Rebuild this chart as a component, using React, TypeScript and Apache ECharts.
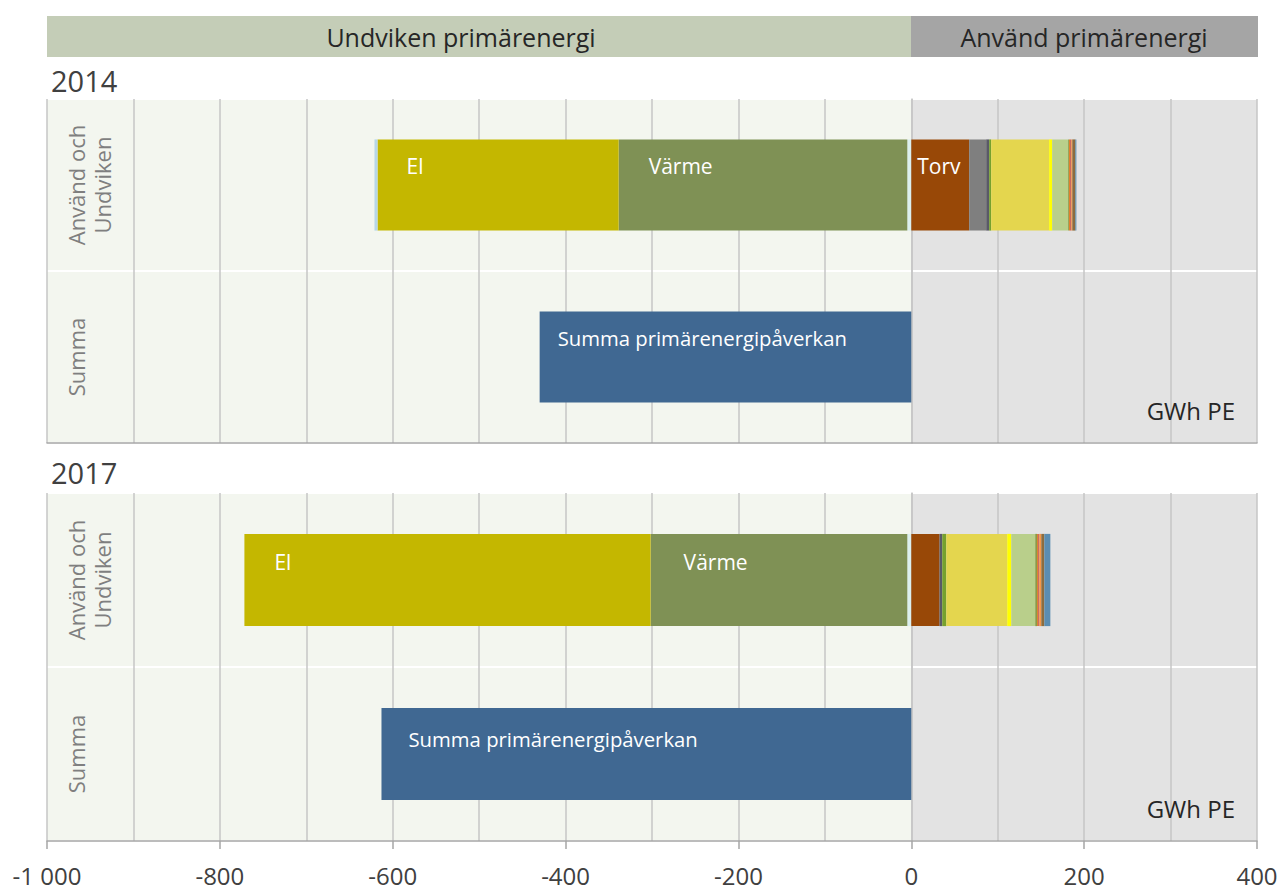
import React, { useEffect, useRef } from "react";
import * as echarts from "echarts";

// ---------- DATA ----------
const categories = ["Summa", "Använd och\nUndviken"];
const years = ["2014", "2017"];
const xMin = -1000;
const xMax = 400;
const tickStep = 200;

// Undviken (negative)
const ljuscyan = [-4.6, -4.6];
const varme = [-334, -297];
const el = [-279, -470];
const ljusbla = [-3.5, 0];
// Använd (positive)
const torv = [67, 32.7];
const gra = [19.7, 0];
const morkgra = [3.4, 3.1];
const gron = [2.3, 4.7];
const gul = [67.1, 70.5];
const klargul = [3.5, 4.7];
const ljusgron = [18.5, 27.7];
const oliv = [1.2, 2.3];
const orange = [1.2, 1.2];
const rod = [1.2, 1.2];
const ljusorange = [1.2, 2.3];
const brun = [3.5, 3.5];
const bla = [1.2, 7];
// Summa
const summa = [-430, -613];

// ---------- STYLE ----------
const FONT = "'Open Sans', 'Noto Sans', sans-serif";
const FW = 400;

const stackDefs = [
  { name: "Ljuscyan", data: ljuscyan, color: "#dbefee" },
  { name: "Värme", data: varme, color: "#7f9155" },
  { name: "El", data: el, color: "#c4b700" },
  { name: "Ljusblå", data: ljusbla, color: "#b7d7e8" },
  { name: "Torv", data: torv, color: "#984807" },
  { name: "Grå", data: gra, color: "#7f7f7f" },
  { name: "Mörkgrå", data: morkgra, color: "#5a5a66" },
  { name: "Grön", data: gron, color: "#77a12e" },
  { name: "Gul", data: gul, color: "#e4d64e" },
  { name: "Klargul", data: klargul, color: "#ffff00" },
  { name: "Ljusgrön", data: ljusgron, color: "#b9cf8b" },
  { name: "Oliv", data: oliv, color: "#8b9a46" },
  { name: "Orange", data: orange, color: "#e46c0a" },
  { name: "Röd", data: rod, color: "#c0504d" },
  { name: "Ljusorange", data: ljusorange, color: "#f79646" },
  { name: "Brun", data: brun, color: "#8c6d3f" },
  { name: "Blå", data: bla, color: "#5b8db1" },
];

// label offsets (px) inside the bar, per year
const labelPos: Record<string, (number[] | null)[]> = {
  El: [[29, 16], [30, 18]],
  Värme: [[30, 16], [33, 18]],
  Torv: [[6, 16], null],
  Summa: [[18, 17], [27, 21]],
};

const fmtTick = (v: number) => {
  const s = Math.abs(v).toString();
  const t = s.length > 3 ? s.slice(0, s.length - 3) + " " + s.slice(-3) : s;
  return (v < 0 ? "-" : "") + t;
};

export default function App() {
  const ref = useRef<HTMLDivElement>(null);
  useEffect(() => {
    const chart = echarts.init(ref.current!, null, { renderer: "svg" });
    const gridsPos = [
      { left: 47, top: 99, width: 1210, height: 344 },
      { left: 47, top: 493, width: 1210, height: 348 },
    ];
    const xAxes: any[] = [];
    const yAxes: any[] = [];
    const series: any[] = [];

    years.forEach((yr, g) => {
      const last = g === years.length - 1;
      xAxes.push({
        type: "value",
        gridIndex: g,
        min: xMin,
        max: xMax,
        interval: tickStep,
        z: 2,
        axisLine: { show: true, onZero: false, lineStyle: { color: "#a6a6a6", width: 1.5 } },
        axisTick: { show: last, length: 8, lineStyle: { color: "#a6a6a6", width: 1.5 } },
        axisLabel: {
          show: last,
          fontSize: 24,
          color: "#404040",
          fontFamily: FONT,
          fontWeight: FW,
          margin: 22,
          formatter: fmtTick,
        },
        splitLine: { show: true, lineStyle: { color: "#c6c6c6", width: 1.5 } },
        minorTick: { show: false, splitNumber: 2 },
        minorSplitLine: { show: true, lineStyle: { color: "#c6c6c6", width: 1.5 } },
      });
      yAxes.push({
        type: "category",
        gridIndex: g,
        data: categories,
        z: 1,
        axisLine: { show: true, lineStyle: { color: "#c6c6c6", width: 1.5 } },
        axisTick: { show: false },
        axisLabel: {
          inside: true,
          rotate: 90,
          margin: 16,
          fontSize: 22,
          lineHeight: 26,
          color: "#7f7f7f",
          fontFamily: FONT,
          fontWeight: FW,
        },
        splitLine: { show: true, lineStyle: { color: "#ffffff", width: 2 } },
      });

      stackDefs.forEach((d, si) => {
        const lp = labelPos[d.name];
        const item: any = { value: d.data[g] };
        if (lp && lp[g]) {
          item.label = {
            show: true,
            position: lp[g],
            formatter: d.name,
            color: "#ffffff",
            fontSize: 21,
            fontFamily: FONT,
            fontWeight: FW,
          };
        }
        const s: any = {
          type: "bar",
          name: d.name,
          xAxisIndex: g,
          yAxisIndex: g,
          stack: "s" + g,
          barWidth: "53%",
          z: 5,
          itemStyle: { color: d.color },
          data: ["-", item],
        };
        if (si === 0) {
          s.markArea = {
            silent: true,
            z: 0,
            itemStyle: { borderWidth: 0 },
            label: { show: false },
            data: [
              [{ xAxis: xMin, itemStyle: { color: "#f3f6ef" } }, { xAxis: 0 }],
              [{ xAxis: 0, itemStyle: { color: "#e3e3e3" } }, { xAxis: xMax }],
            ],
          };
        }
        series.push(s);
      });
      const sp = labelPos["Summa"][g];
      series.push({
        type: "bar",
        name: "Summa",
        xAxisIndex: g,
        yAxisIndex: g,
        stack: "s" + g,
        barWidth: "53%",
        z: 5,
        itemStyle: { color: "#406892" },
        data: [
          {
            value: summa[g],
            label: {
              show: true,
              position: sp,
              formatter: "Summa primärenergipåverkan",
              color: "#ffffff",
              fontSize: 20.3,
              fontFamily: FONT,
              fontWeight: FW,
            },
          },
          "-",
        ],
      });
    });

    const txt = (text: string, x: number, y: number, size: number, fill: string, align: string) => ({
      type: "text",
      x,
      y,
      z: 10,
      style: { text, fontSize: size, fontFamily: FONT, fontWeight: FW, fill, align, verticalAlign: "middle" },
    });

    const option: any = {
      animation: false,
      backgroundColor: "#ffffff",
      grid: gridsPos,
      xAxis: xAxes,
      yAxis: yAxes,
      series,
      graphic: [
        { type: "rect", left: 47, top: 16, shape: { width: 864, height: 41 }, style: { fill: "#c4cdb7" } },
        { type: "rect", left: 911, top: 16, shape: { width: 347, height: 41 }, style: { fill: "#a5a5a5" } },
        txt("Undviken primärenergi", 461, 37, 25, "#262626", "center"),
        txt("Använd primärenergi", 1084, 37, 25, "#262626", "center"),
        txt(years[0], 51, 80, 29, "#404040", "left"),
        txt(years[1], 51, 472, 29, "#404040", "left"),
        txt("GWh PE", 1235, 410, 24, "#262626", "right"),
        txt("GWh PE", 1235, 808, 24, "#262626", "right"),
      ],
    };
    chart.setOption(option);
    return () => chart.dispose();
  }, []);
  return <div ref={ref} style={{ position: "fixed", left: 0, top: 0, width: 1283, height: 890 }} />;
}
